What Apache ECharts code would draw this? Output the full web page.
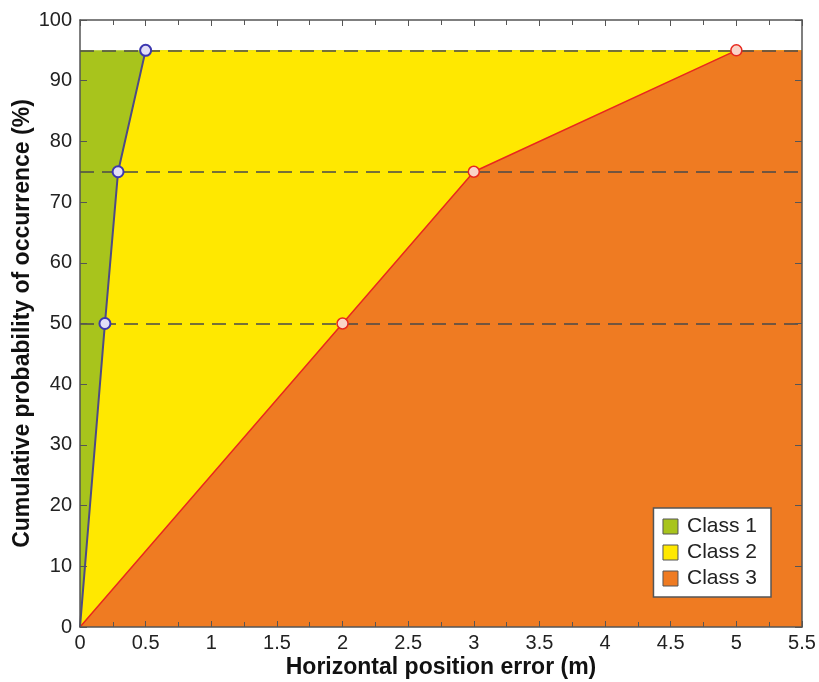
<!DOCTYPE html>
<html><head><meta charset="utf-8">
<script src="https://cdn.jsdelivr.net/npm/echarts@6/dist/echarts.min.js"></script>
<style>html,body{margin:0;padding:0;background:#fff}#c{width:819px;height:682px}</style>
</head><body><div id="c"></div>
<script>
const xTicks = [0,0.5,1,1.5,2,2.5,3,3.5,4,4.5,5,5.5];
const yTicks = [0,10,20,30,40,50,60,70,80,90,100];
const class1X = [0, 0.19, 0.29, 0.5];
const class1Y = [0, 50, 75, 95];
const class3X = [0, 2, 3, 5];
const class3Y = [0, 50, 75, 95];
const ceilingY = 95;
const xMax = 5.5;
const refLevels = [50, 75, 95];
const names = ['Class 1', 'Class 2', 'Class 3'];
const colors = ['#a8c41c', '#ffe800', '#ef7b22'];

const blue = class1X.map((x,i)=>[x, class1Y[i]]);
const red = class3X.map((x,i)=>[x, class3Y[i]]);
const blueArea = blue.concat([[xMax, ceilingY]]);
const redArea = red.concat([[xMax, ceilingY]]);
const full = [[0, ceilingY],[xMax, ceilingY]];
// no marker drawn at the origin point
const withMarks = pts => pts.map((p,i)=> i===0 ? {value:p, symbol:'none'} : {value:p});

const axisCol = '#555';
const font = 'Liberation Sans, Arial, Helvetica, sans-serif';
const chart = echarts.init(document.getElementById('c'));
const area = (name, data, color, z) => ({
  name, type:'line', data, showSymbol:false, symbol:'none', z,
  lineStyle:{width:0}, itemStyle:{color},
  areaStyle:{color, opacity:1, origin:'start'}, animation:false, silent:true
});
const frameAxis = {
  axisLine:{show:true, onZero:false, lineStyle:{color:axisCol, width:1.5}},
  splitLine:{show:false}, z:10
};
chart.setOption({
  animation:false,
  grid:{left:80, right:17, top:20, bottom:55, containLabel:false, outerBoundsMode:'none'},
  legend:{
    right:48, bottom:85, orient:'vertical', itemGap:5,
    backgroundColor:'#fff', borderColor:'#555', borderWidth:1.5, padding:[8,14,8,9],
    itemWidth:15, itemHeight:15, icon:'rect',
    textStyle:{fontSize:21, color:'#222', fontFamily:font, padding:[0,0,0,4]},
    data: names.map((n,i)=>({name:n, icon:'rect', itemStyle:{color:colors[i], borderColor:'#555', borderWidth:1}}))
  },
  xAxis:[Object.assign({
    type:'value', min:0, max:xMax, interval:0.5,
    name:'Horizontal position error (m)', nameLocation:'middle', nameGap:29,
    nameMoveOverlap:false,
    nameTextStyle:{fontSize:23, fontWeight:'bold', color:'#111', fontFamily:font},
    axisTick:{show:true, inside:true, length:6, lineStyle:{color:axisCol}},
    minorTick:{show:true, splitNumber:2, length:5, lineStyle:{color:axisCol}},
    axisLabel:{fontSize:20, color:'#222', margin:6, fontFamily:font, formatter:v=>String(v)}
  }, frameAxis),
  Object.assign({
    type:'value', min:0, max:xMax, interval:0.5, position:'top',
    axisTick:{show:true, inside:true, length:6, lineStyle:{color:axisCol}},
    minorTick:{show:true, splitNumber:2, length:5, lineStyle:{color:axisCol}},
    axisLabel:{show:false}
  }, frameAxis)],
  yAxis:[Object.assign({
    type:'value', min:0, max:100, interval:10,
    name:'Cumulative probability of occurrence (%)', nameLocation:'middle', nameGap:46,
    nameMoveOverlap:false,
    nameTextStyle:{fontSize:23, fontWeight:'bold', color:'#111', fontFamily:font},
    axisTick:{show:true, inside:true, length:7, lineStyle:{color:axisCol}},
    axisLabel:{fontSize:20, color:'#222', margin:8, fontFamily:font}
  }, frameAxis),
  Object.assign({
    type:'value', min:0, max:100, interval:10, position:'right',
    axisTick:{show:true, inside:true, length:7, lineStyle:{color:axisCol}},
    axisLabel:{show:false}
  }, frameAxis)],
  series:[
    area('Class 1', full, colors[0], 1),
    area('Class 2', blueArea, colors[1], 2),
    area('Class 3', redArea, colors[2], 3),
    {
      name:'refs', type:'line', data:[], z:4, silent:true,
      markLine:{symbol:'none', silent:true, animation:false, label:{show:false},
        lineStyle:{color:'#4a4a4a', type:[14,8], width:1.5},
        data: refLevels.map(v=>({yAxis:v}))}
    },
    {
      name:'blueLine', type:'line', data:withMarks(blue), z:5, symbol:'circle', symbolSize:11,
      lineStyle:{color:'#4d4a86', width:2},
      itemStyle:{color:'#e2def6', borderColor:'#3c37b0', borderWidth:2}
    },
    {
      name:'redLine', type:'line', data:withMarks(red), z:5, symbol:'circle', symbolSize:11,
      lineStyle:{color:'#e8281e', width:1.5},
      itemStyle:{color:'#f9d4c8', borderColor:'#e8281e', borderWidth:1.5}
    }
  ]
});
</script></body></html>
